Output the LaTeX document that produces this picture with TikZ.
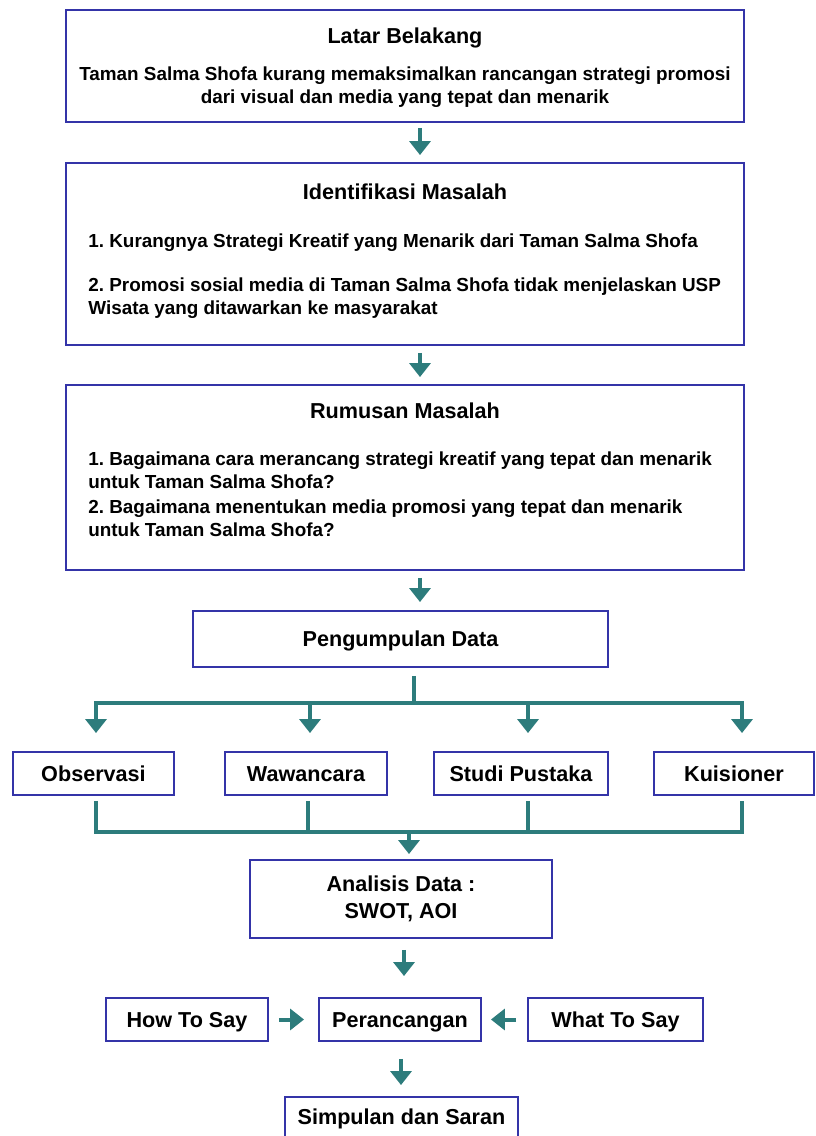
\documentclass[tikz,border=0pt]{standalone}
\usepackage{fontspec}
\setmainfont{Liberation Sans}
\usetikzlibrary{positioning,arrows.meta}
\frenchspacing

\definecolor{garisbiru}{RGB}{52,52,168}
\definecolor{hijaulaut}{RGB}{45,124,124}
\newcommand{\judul}{\fontsize{12.3}{15.4}\selectfont\bfseries}
\newcommand{\isi}{\fontsize{10.75}{13.1}\selectfont\bfseries}

\tikzset{
  kepala/.tip={Triangle[width=4.2mm,length=2.8mm]},
  kotak/.style={draw=garisbiru, line width=1.1pt, rectangle, inner sep=0pt, font=\judul, text height=8.9pt, text depth=0pt},
  teks/.style={inner sep=0pt, font=\isi},
  garis/.style={draw=hijaulaut, line width=0.8mm},
  panah/.style={garis, -kepala}
}

\begin{document}
\begin{tikzpicture}[x=0.02cm, y=-0.02cm]
    \useasboundingbox (0,0) rectangle (815,1136);

    % tiga kotak besar
    \node[kotak, minimum width=13.56cm, minimum height=2.24cm] (latar) at (405,66) {};
    \node[kotak, minimum width=13.56cm, minimum height=3.64cm] (ident) at (405,254) {};
    \node[kotak, minimum width=13.56cm, minimum height=3.7cm] (rumus) at (405,477.5) {};

    \node[font=\judul] (latarJudul) at (405,38) {Latar Belakang};
    \node[teks, align=center] (latarIsi) at (405,87) {Taman Salma Shofa kurang memaksimalkan rancangan strategi promosi\\ dari visual dan media yang tepat dan menarik};

    \node[font=\judul] (identJudul) at (405,192) {Identifikasi Masalah};
    \node[teks, anchor=west] (ident1) at (88,243) {1. Kurangnya Strategi Kreatif yang Menarik dari Taman Salma Shofa};
    \node[teks, anchor=west, align=left] (ident2) at (88,298) {2. Promosi sosial media di Taman Salma Shofa tidak menjelaskan USP\\ Wisata yang ditawarkan ke masyarakat};

    \node[font=\judul] (rumusJudul) at (405,411) {Rumusan Masalah};
    \node[teks, anchor=west, align=left] (rumus1) at (88,470.5) {1. Bagaimana cara merancang strategi kreatif yang tepat dan menarik\\ untuk Taman Salma Shofa?};
    \node[teks, anchor=west, align=left] (rumus2) at (88,518) {2. Bagaimana menentukan media promosi yang tepat dan menarik\\ untuk Taman Salma Shofa?};

    \node[kotak, minimum width=8.3cm, minimum height=1.12cm] (kumpul) at (400.5,639) {Pengumpulan Data};

    % metode pengumpulan data
    \node[kotak, minimum width=3.22cm, minimum height=0.86cm] (obs) at (93.5,773.5) {Observasi};
    \node[kotak, minimum width=3.24cm, minimum height=0.86cm] (waw) at (306,773.5) {Wawancara};
    \node[kotak, minimum width=3.48cm, minimum height=0.86cm] (studi) at (521,773.5) {Studi Pustaka};
    \node[kotak, minimum width=3.2cm, minimum height=0.86cm] (kuis) at (734,773.5) {Kuisioner};

    \node[kotak, minimum width=6.04cm, minimum height=1.56cm, text height=, text depth=, align=center] (analisis) at (401,899) {Analisis Data :\\ SWOT, AOI};

    \node[kotak, minimum width=3.24cm, minimum height=0.86cm] (how) at (187,1019.5) {How To Say};
    \node[kotak, minimum width=3.24cm, minimum height=0.86cm] (peran) at (400,1019.5) {Perancangan};
    \node[kotak, minimum width=3.5cm, minimum height=0.86cm] (what) at (615.5,1019.5) {What To Say};
    \node[kotak, minimum width=4.66cm, minimum height=0.8cm] (simpul) at (401.5,1117) {Simpulan dan Saran};

    \coordinate (busA) at (414,703);
    \coordinate (busB) at (409,832);

    % panah-panah
    \draw[panah, shorten <=0.1cm, shorten >=0.14cm] (latar.south -| 420,0) -- (ident.north -| 420,0);
    \draw[panah, shorten <=0.14cm, shorten >=0.14cm] (ident.south -| 420,0) -- (rumus.north -| 420,0);
    \draw[panah, shorten <=0.14cm, shorten >=0.16cm] (rumus.south -| 420,0) -- (kumpul.north -| 420,0);

    \draw[garis, shorten <=0.16cm] (kumpul.south -| busA) -- (busA);
    \draw[garis, kepala-kepala, shorten <=0.36cm, shorten >=0.36cm] (obs.north -| 96,0) -- (busA -| 96,0) -- (busA -| 742,0) -- (kuis.north -| 742,0);
    \draw[panah, shorten >=0.36cm] (busA -| 310,0) -- (waw.north -| 310,0);
    \draw[panah, shorten >=0.36cm] (busA -| 528,0) -- (studi.north -| 528,0);

    \draw[garis, shorten <=0.1cm, shorten >=0.1cm] (obs.south -| 96,0) -- (busB -| 96,0) -- (busB -| 742,0) -- (kuis.south -| 742,0);
    \draw[garis, shorten <=0.1cm] (waw.south -| 308,0) -- (busB -| 308,0);
    \draw[garis, shorten <=0.1cm] (studi.south -| 528,0) -- (busB -| 528,0);
    \draw[panah, shorten >=0.1cm] (busB) -- (analisis.north -| busB);

    \draw[panah, shorten <=0.22cm, shorten >=0.42cm] (analisis.south -| 404,0) -- (peran.north -| 404,0);
    \draw[panah, shorten <=0.2cm, shorten >=0.28cm] (how) -- (peran);
    \draw[panah, shorten <=0.22cm, shorten >=0.18cm] (what) -- (peran);
    \draw[panah, shorten <=0.34cm, shorten >=0.22cm] (peran.south -| 401,0) -- (simpul.north -| 401,0);
\end{tikzpicture}
\end{document}
